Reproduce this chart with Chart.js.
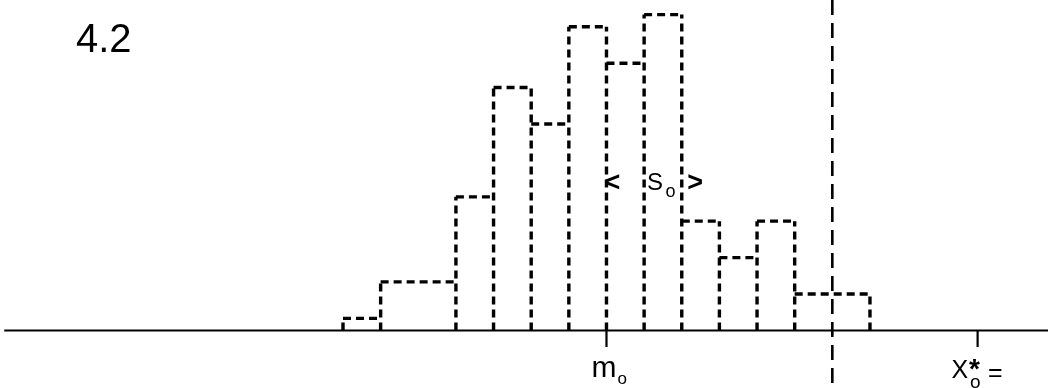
<!DOCTYPE html>
<html>
<head>
<meta charset="utf-8">
<style>
  html, body { margin: 0; padding: 0; background: #ffffff; }
  #chart { display: block; }
</style>
<script src="https://cdn.jsdelivr.net/npm/chart.js@4/dist/chart.umd.min.js"></script>
</head>
<body>
<canvas id="chart" width="1048" height="388"></canvas>
<script>
// Histogram class boundaries (in class-width units) and the height of each class
const binEdges  = [0, 1, 3, 4, 5, 6, 7, 8, 9, 10, 11, 12, 14];
const binCounts = [1, 4, 11, 20, 17, 25, 22, 26, 9, 6, 9, 3];

// Marked positions on the horizontal axis
const meanPos  = 7;      // m_o
const limitPos = 13;     // dashed limit line
const xStarPos = 16.86;  // X*_o

// Spread arrows "< S_o >" span the classes from the mean
const spreadFrom = 7;
const spreadTo   = 9;

// Visible range of both axes
const xRange = [-9.1126, 18.73];
const yRange = [-4.73, 27.2];
const axisStart = -9.0;
const tickDepth = 1.35;

// Vertical edges of the histogram: each rises to the taller neighbouring class
const edgePts = [];
binEdges.forEach((e, i) => {
  const left = i > 0 ? binCounts[i - 1] : 0;
  const right = i < binCounts.length ? binCounts[i] : 0;
  edgePts.push({ x: e, y: 0 }, { x: e, y: Math.max(left, right) }, { x: e, y: null });
});

// Horizontal tops of each class
const topPts = [];
binCounts.forEach((c, i) => {
  topPts.push({ x: binEdges[i], y: c }, { x: binEdges[i + 1], y: c }, { x: binEdges[i + 1], y: null });
});

// Short tick marks below the axis
const tickPts = [];
[meanPos, xStarPos].forEach(p => {
  tickPts.push({ x: p, y: 0 }, { x: p, y: -tickDepth }, { x: p, y: null });
});

const ink = '#000000';

// Lettering: figure number, axis labels and the spread annotation
const lettering = {
  id: 'lettering',
  afterDatasetsDraw(chart) {
    const ctx = chart.ctx;
    const xs = chart.scales.x;
    const ys = chart.scales.y;
    const base = ys.getPixelForValue(0);
    ctx.save();
    ctx.fillStyle = ink;
    ctx.textAlign = 'left';
    ctx.textBaseline = 'alphabetic';
    const fam = '"Liberation Sans", Arial, sans-serif';

    // figure number
    ctx.font = '40px ' + fam;
    ctx.fillText('4.2', 76, 52);

    // m_o
    const mx = xs.getPixelForValue(meanPos);
    ctx.font = '30px ' + fam;
    ctx.fillText('m', mx - 15, base + 46.5);
    ctx.font = '17px ' + fam;
    ctx.fillText('o', mx + 11, base + 53);

    // X*_o =
    const sx = xs.getPixelForValue(xStarPos);
    ctx.font = '25px ' + fam;
    ctx.fillText('X', sx - 26, base + 47.5);
    ctx.font = 'bold 28px ' + fam;
    ctx.fillText('*', sx - 8.5, base + 47);
    ctx.font = '19px ' + fam;
    ctx.fillText('o', sx - 7.5, base + 57.5);
    ctx.font = '25px ' + fam;
    ctx.fillText('=', sx + 10.5, base + 50.5);

    // < S_o >
    const ax = xs.getPixelForValue(spreadFrom);
    const bx = xs.getPixelForValue(spreadTo);
    const mid = (ax + bx) / 2;
    const ty = 190.8;
    ctx.font = 'bold 27px ' + fam;
    ctx.fillText('<', ax - 2, ty);
    ctx.fillText('>', bx + 5.5, ty);
    ctx.font = '24px ' + fam;
    ctx.fillText('S', mid + 3, 190);
    ctx.font = '18px ' + fam;
    ctx.fillText('o', mid + 21.5, 197);
    ctx.restore();
  }
};

new Chart(document.getElementById('chart'), {
  type: 'line',
  data: {
    datasets: [
      {
        // horizontal axis
        data: [{ x: axisStart, y: 0 }, { x: xRange[1], y: 0 }],
        borderColor: ink, borderWidth: 2.2, pointRadius: 0
      },
      {
        data: edgePts,
        borderColor: ink, borderWidth: 3.4, borderDash: [8, 5], pointRadius: 0, spanGaps: false
      },
      {
        data: topPts,
        borderColor: ink, borderWidth: 3.4, borderDash: [8, 5], pointRadius: 0, spanGaps: false
      },
      {
        data: tickPts,
        borderColor: ink, borderWidth: 2.2, pointRadius: 0, spanGaps: false
      },
      {
        // dashed limit line across the whole figure
        data: [{ x: limitPos, y: yRange[1] }, { x: limitPos, y: yRange[0] }],
        borderColor: ink, borderWidth: 2.6, borderDash: [15, 8], pointRadius: 0
      }
    ]
  },
  options: {
    responsive: false,
    devicePixelRatio: 1,
    animation: false,
    layout: { padding: 0 },
    scales: {
      x: { type: 'linear', display: false, min: xRange[0], max: xRange[1] },
      y: { type: 'linear', display: false, min: yRange[0], max: yRange[1] }
    },
    plugins: {
      legend: { display: false },
      tooltip: { enabled: false },
      title: { display: false }
    },
    elements: { line: { tension: 0, fill: false } }
  },
  plugins: [lettering]
});
</script>
</body>
</html>
